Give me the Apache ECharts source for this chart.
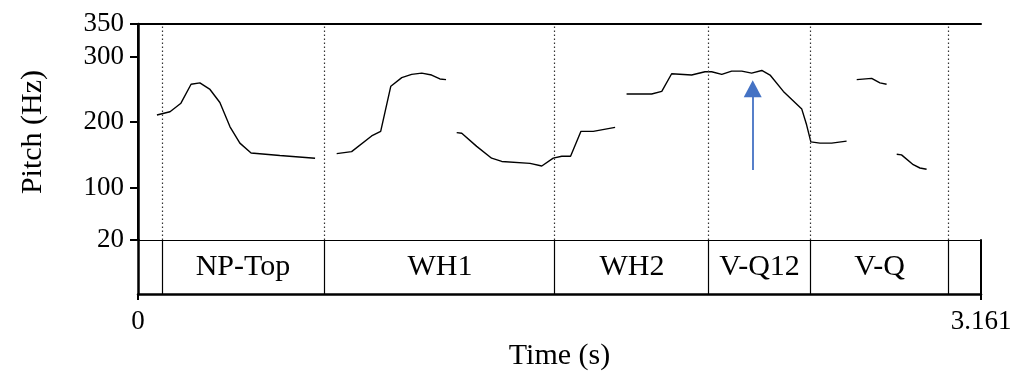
<!DOCTYPE html>
<html>
<head>
<meta charset="utf-8">
<script src="https://cdn.jsdelivr.net/npm/echarts@6/dist/echarts.min.js"></script>
<style>html,body{margin:0;padding:0;background:#fff;}#c{width:1025px;height:376px;}</style>
</head>
<body>
<div id="c"></div>
<script>
// ---- data ----
const timeMax = 3.161;
const pitchTicks = [20, 100, 200, 300, 350];
const timeTicks = [0, 3.161];

const seg1T = [0.071, 0.120, 0.161, 0.199, 0.232, 0.270, 0.307, 0.345, 0.382, 0.424, 0.532, 0.664];
const seg1F = [211, 216, 229, 258, 260, 250, 230, 193, 168, 153, 149, 145];
const seg2T = [0.745, 0.801, 0.876, 0.910, 0.948, 0.989, 1.026, 1.064, 1.101, 1.132, 1.155];
const seg2F = [152, 155, 179, 186, 255, 268, 273, 275, 272, 266, 265];
const seg3T = [1.195, 1.214, 1.270, 1.326, 1.364, 1.470, 1.514, 1.557, 1.589, 1.622, 1.661, 1.707, 1.789];
const seg3F = [184, 183, 163, 145, 140, 137, 133, 145, 148, 148, 186, 186, 192];
const seg4T = [1.832, 1.926, 1.964, 2.001, 2.076, 2.126, 2.151, 2.189, 2.226, 2.264, 2.301, 2.339, 2.370, 2.420, 2.489, 2.507, 2.523, 2.557, 2.601, 2.657];
const seg4F = [243, 243, 247, 274, 272, 277, 277, 273, 278, 278, 275, 279, 272, 247, 220, 196, 170, 168, 168, 171];
const seg5T = [2.695, 2.751, 2.782, 2.807];
const seg5F = [265, 267, 260, 258];
const seg6T = [2.845, 2.863, 2.907, 2.932, 2.957];
const seg6F = [151, 150, 135, 130, 128];

const tierBounds = [0, 0.086, 0.701, 1.564, 2.141, 2.520, 3.041, 3.161];
const tierLabels = ["", "NP-Top", "WH1", "WH2", "V-Q12", "V-Q", ""];

const arrowT = 2.305;
const arrowFrom = 127;
const arrowTo = 251;

// ---- build ----
const segs = [[seg1T, seg1F], [seg2T, seg2F], [seg3T, seg3F], [seg4T, seg4F], [seg5T, seg5F], [seg6T, seg6F]];
const pitchData = [];
segs.forEach((s, i) => {
  if (i > 0) pitchData.push([null, null]);
  s[0].forEach((t, j) => pitchData.push([t, s[1][j]]));
});
const innerBounds = tierBounds.slice(1, -1);
const tierData = [];
for (let i = 0; i < tierLabels.length; i++) {
  if (tierLabels[i]) tierData.push([(tierBounds[i] + tierBounds[i + 1]) / 2, 0.5, tierLabels[i]]);
}

const FONT = '"Liberation Serif", "Times New Roman", serif';
const L = 138, R = 44;
const chart = echarts.init(document.getElementById('c'), null, {renderer: 'canvas'});
chart.setOption({
  animation: false,
  backgroundColor: '#fff',
  textStyle: {fontFamily: FONT, color: '#000'},
  grid: [
    {left: L, right: R, top: 24, height: 216},
    {left: L, right: R, top: 240, height: 54}
  ],
  xAxis: [
    {gridIndex: 0, type: 'value', min: 0, max: timeMax, position: 'bottom',
      axisLine: {show: true, lineStyle: {color: '#000', width: 1.2}},
      axisTick: {show: false}, axisLabel: {show: false}, splitLine: {show: false}},
    {gridIndex: 1, type: 'value', min: 0, max: timeMax, position: 'bottom',
      name: 'Time (s)', nameLocation: 'middle', nameGap: 47,
      nameTextStyle: {fontFamily: FONT, fontSize: 30, color: '#000'},
      axisLine: {show: true, lineStyle: {color: '#000', width: 2.5}},
      axisTick: {show: true, customValues: timeTicks, length: 6, lineStyle: {color: '#000', width: 2}},
      axisLabel: {show: true, customValues: timeTicks, margin: 14, fontFamily: FONT, fontSize: 27, color: '#000',
        formatter: v => (v === 0 ? '0' : String(timeMax))},
      splitLine: {show: false}},
    {gridIndex: 0, type: 'value', min: 0, max: timeMax, position: 'top',
      axisLine: {show: true, lineStyle: {color: '#000', width: 2}},
      axisTick: {show: false}, axisLabel: {show: false}, splitLine: {show: false}}
  ],
  yAxis: [
    {gridIndex: 0, type: 'value', min: 20, max: 350, position: 'left',
      name: 'Pitch (Hz)', nameLocation: 'middle', nameGap: 90, nameRotate: 90,
      nameTextStyle: {fontFamily: FONT, fontSize: 30, color: '#000'},
      axisLine: {show: true, lineStyle: {color: '#000', width: 2.5}},
      axisTick: {show: true, customValues: pitchTicks, length: 8, lineStyle: {color: '#000', width: 2}},
      axisLabel: {show: true, customValues: pitchTicks, margin: 14, fontFamily: FONT, fontSize: 27, color: '#000'},
      splitLine: {show: false}},
    {gridIndex: 1, type: 'value', min: 0, max: 1, position: 'left',
      axisLine: {show: true, lineStyle: {color: '#000', width: 2.5}},
      axisTick: {show: false}, axisLabel: {show: false}, splitLine: {show: false}},
    {gridIndex: 0, type: 'value', min: 20, max: 350, position: 'right',
      axisLine: {show: true, lineStyle: {color: '#000', width: 2}},
      axisTick: {show: false}, axisLabel: {show: false}, splitLine: {show: false}},
    {gridIndex: 1, type: 'value', min: 0, max: 1, position: 'right',
      axisLine: {show: true, lineStyle: {color: '#000', width: 2}},
      axisTick: {show: false}, axisLabel: {show: false}, splitLine: {show: false}}
  ],
  series: [
    {type: 'line', xAxisIndex: 0, yAxisIndex: 0, data: pitchData, connectNulls: false,
      showSymbol: false, symbol: 'none', silent: true,
      lineStyle: {color: '#000', width: 1.4},
      markLine: {silent: true, symbol: 'none', label: {show: false},
        lineStyle: {color: '#333', width: 1.2, type: [1.5, 2.5]},
        data: innerBounds.map(b => ({xAxis: b}))}},
    {type: 'line', xAxisIndex: 0, yAxisIndex: 0, data: [], silent: true,
      markLine: {silent: true, symbol: ['none', 'triangle'], symbolSize: [18, 17], label: {show: false},
        lineStyle: {color: '#4472C4', width: 1.8, type: 'solid'},
        itemStyle: {color: '#4472C4'},
        data: [[{coord: [arrowT, arrowFrom]}, {coord: [arrowT, arrowTo]}]]}},
    {type: 'scatter', xAxisIndex: 1, yAxisIndex: 1, data: tierData, symbolSize: 0, silent: true,
      itemStyle: {color: '#000', opacity: 1},
      label: {show: true, position: 'inside', formatter: p => p.data[2],
        fontFamily: FONT, fontSize: 30, color: '#000', textBorderWidth: 0, opacity: 1},
      markLine: {silent: true, symbol: 'none', label: {show: false},
        lineStyle: {color: '#000', width: 1.2, type: 'solid'},
        data: innerBounds.map(b => ({xAxis: b}))}}
  ]
});
</script>
</body>
</html>
